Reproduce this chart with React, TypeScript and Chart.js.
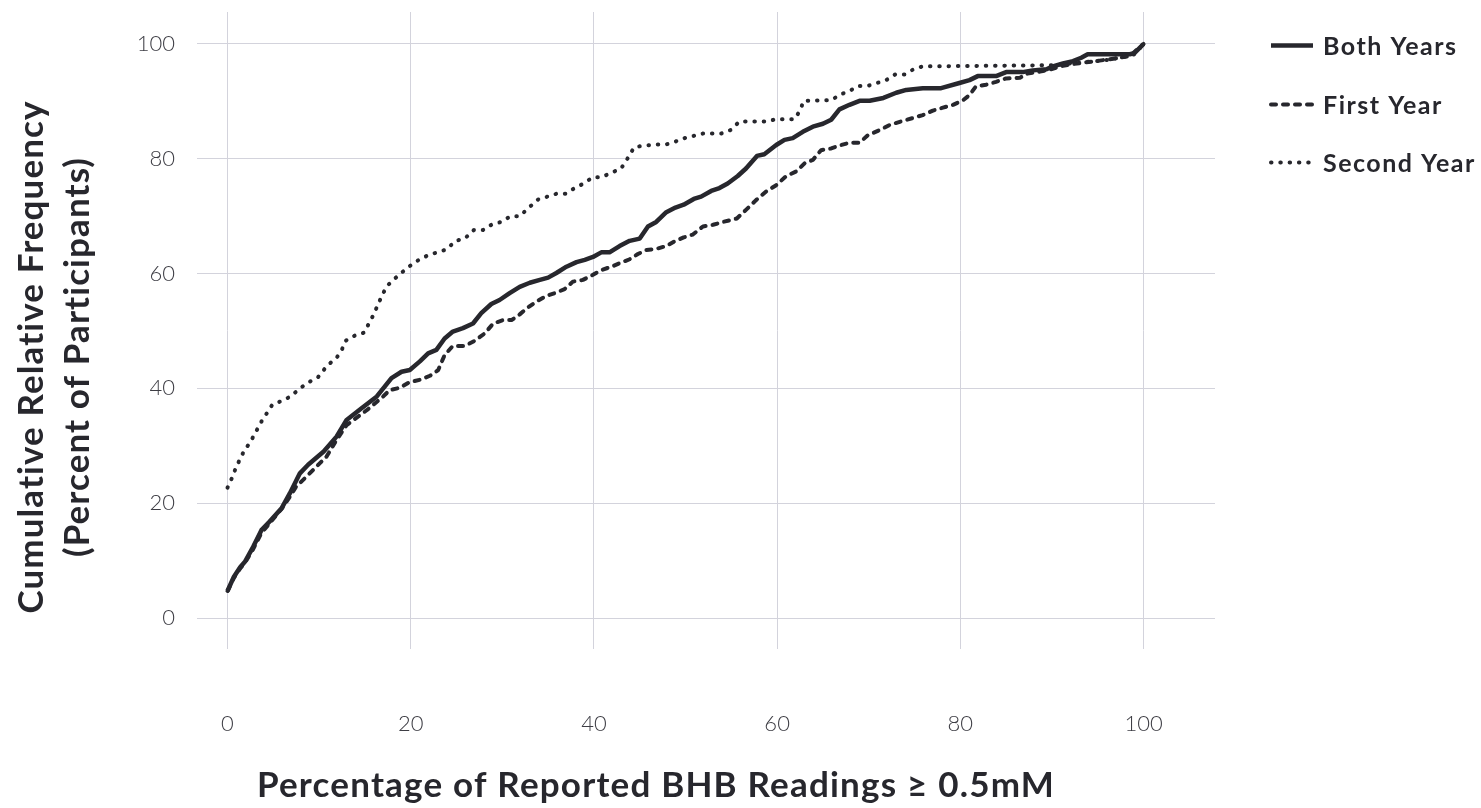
import React, { useEffect, useRef } from "react";
import { Chart, registerables } from "chart.js";

Chart.register(...registerables);

// Axis ticks
const xTickValues = [0, 20, 40, 60, 80, 100];
const yTickValues = [0, 20, 40, 60, 80, 100];

// Legend / series labels
const seriesLabels = ["Both Years", "First Year", "Second Year"];

// Both Years: percentage of readings >= 0.5mM vs cumulative percent of participants
const bothYearsX = [
  0, 0.7, 1.4, 1.9, 2.8, 3.7, 4.6, 5.9, 6.8, 7.9, 8.8, 10.5, 11.9, 13.0, 14.6, 16.3,
  17.9, 19.0, 19.9, 21.0, 21.9, 22.8, 23.7, 24.6, 25.7, 26.8, 27.7, 28.8, 29.7, 30.8,
  31.9, 33.0, 34.1, 35.0, 35.9, 37.0, 38.1, 39.0, 39.9, 40.8, 41.7, 42.8, 43.9, 45.0,
  45.9, 46.8, 47.9, 48.9, 49.8, 50.9, 51.7, 52.8, 53.7, 54.6, 55.7, 56.6, 57.8, 58.6,
  59.9, 60.8, 61.7, 62.8, 63.9, 65.0, 65.9, 66.8, 67.9, 69.0, 70.1, 71.6, 73.0, 74.1,
  75.9, 77.9, 79.9, 81.0, 81.9, 83.9, 85.0, 86.8, 87.9, 89.4, 90.1, 91.2, 92.3, 93.2,
  93.9, 98.5, 99.0, 100,
];
const bothYearsY = [
  4.7, 7.2, 8.9, 9.8, 12.4, 15.3, 16.8, 19.1, 21.7, 25.2, 26.7, 29.0, 31.6, 34.5, 36.5, 38.6,
  41.8, 42.9, 43.2, 44.7, 46.1, 46.7, 48.7, 49.9, 50.5, 51.3, 53.1, 54.7, 55.4, 56.6,
  57.7, 58.4, 58.9, 59.3, 60.1, 61.2, 62.0, 62.4, 62.9, 63.7, 63.7, 64.8, 65.7, 66.1,
  68.2, 69.0, 70.7, 71.5, 72.0, 73.0, 73.4, 74.4, 74.9, 75.7, 77.0, 78.3, 80.5, 80.8,
  82.4, 83.3, 83.6, 84.7, 85.6, 86.1, 86.8, 88.6, 89.4, 90.1, 90.1, 90.6, 91.5, 92.0,
  92.3, 92.3, 93.2, 93.7, 94.4, 94.4, 95.1, 95.1, 95.4, 95.6, 96.1, 96.6, 97.0, 97.6,
  98.2, 98.2, 98.4, 100,
];

// First Year
const firstYearX = [
  0, 0.7, 1.4, 1.9, 2.8, 3.7, 4.6, 5.9, 6.8, 7.5, 8.6, 10.8, 11.9, 13.0, 15.2, 17.0,
  17.7, 18.8, 19.9, 21.0, 22.1, 23.0, 23.7, 24.6, 25.9, 27.0, 28.1, 29.0, 30.1, 31.0,
  31.9, 32.8, 33.7, 34.8, 35.9, 36.8, 37.7, 38.8, 39.9, 40.8, 41.9, 42.8, 43.9, 44.8,
  45.7, 46.8, 47.9, 48.8, 49.8, 50.8, 51.9, 53.0, 54.1, 55.6, 56.6, 57.7, 58.8, 59.9,
  61.0, 62.1, 63.0, 63.9, 64.8, 65.9, 67.0, 67.9, 69.0, 69.9, 71.2, 72.3, 73.5, 74.8,
  75.9, 77.0, 78.1, 79.2, 80.3, 81.0, 81.7, 82.8, 83.9, 85.0, 86.5, 87.2, 88.7, 89.7,
  91.2, 92.3, 93.7, 95.2, 97.0, 98.5, 100,
];
const firstYearY = [
  4.7, 7.0, 8.7, 9.6, 12.0, 14.8, 16.5, 19.0, 21.1, 22.9, 24.6, 28.1, 31.0, 33.6, 36.2, 38.6,
  39.7, 40.1, 41.1, 41.5, 42.2, 43.2, 45.8, 47.4, 47.4, 48.3, 49.6, 51.3, 51.9, 51.9,
  52.9, 54.1, 55.1, 56.1, 56.7, 57.3, 58.6, 58.9, 59.8, 60.6, 61.2, 61.8, 62.5, 63.4,
  64.1, 64.3, 64.8, 65.6, 66.3, 66.8, 68.2, 68.5, 69.0, 69.6, 71.1, 72.8, 74.3, 75.4,
  77.0, 77.8, 79.2, 79.8, 81.5, 81.8, 82.4, 82.8, 82.8, 84.1, 85.0, 85.9, 86.5, 87.1,
  87.6, 88.4, 88.9, 89.4, 90.2, 91.1, 92.6, 92.9, 93.4, 94.0, 94.1, 94.8, 95.2, 95.5,
  96.2, 96.5, 96.8, 97.1, 97.5, 97.9, 100,
];

// Second Year
const secondYearX = [
  0, 0.46, 0.9, 1.4, 1.9, 2.5, 2.9, 3.4, 3.9, 4.4, 4.9, 5.9, 6.9, 7.9, 8.9, 9.9,
  10.9, 11.9, 12.5, 12.9, 13.9, 14.9, 15.4, 15.9, 16.4, 16.9, 17.4, 17.9, 18.8, 19.9,
  20.9, 21.9, 22.9, 23.9, 24.9, 25.9, 26.9, 27.9, 28.9, 29.9, 30.9, 31.9, 32.9, 33.9,
  34.9, 35.9, 36.9, 37.9, 38.9, 39.9, 40.9, 41.9, 42.9, 43.4, 43.9, 44.4, 45.1, 46.9,
  47.9, 48.9, 49.9, 50.9, 51.9, 53.9, 54.9, 55.9, 58.9, 59.9, 61.9, 62.5, 62.9, 65.9,
  66.9, 67.9, 68.9, 69.9, 70.9, 71.9, 72.9, 73.9, 74.9, 75.9, 90.0, 92.0, 94.0, 96.0,
  98.0, 99.0, 100,
];
const secondYearY = [
  22.7, 24.3, 26.1, 27.8, 29.4, 30.6, 31.9, 33.3, 34.8, 35.9, 37.2, 37.8, 38.6, 40.0, 41.1, 42.0,
  44.0, 45.3, 46.8, 48.3, 49.2, 49.7, 51.2, 52.7, 54.5, 56.3, 57.8, 58.6, 59.9, 61.3,
  62.4, 63.2, 63.7, 64.2, 65.7, 66.1, 67.6, 67.6, 68.6, 69.0, 70.0, 70.0, 71.5, 72.9,
  73.4, 73.9, 73.9, 74.9, 75.7, 76.8, 76.8, 77.6, 78.2, 79.3, 80.7, 82.0, 82.2, 82.5,
  82.5, 83.0, 83.6, 84.0, 84.4, 84.4, 85.0, 86.5, 86.5, 86.9, 86.9, 88.4, 90.1, 90.2,
  91.2, 91.8, 92.7, 92.7, 93.2, 93.7, 94.7, 94.7, 95.6, 96.1, 96.3, 96.6, 96.9, 97.2,
  97.8, 98.2, 100,
];

const INK = "#27272d";
const GRID = "#d3d3dc";
const TICK_INK = "#3d3d44";
const FONT = "Lato, 'DejaVu Sans', sans-serif";

const SOLID: number[] = [];
const DASHED = [5, 7];
const DOTTED = [0.5, 8.8];

const toPoints = (xs: number[], ys: number[]) => xs.map((x, i) => ({ x, y: ys[i] }));

// Draws axis titles and the line-style legend on top of the chart.
const decorations = {
  id: "decorations",
  afterDraw(chart: any) {
    const ctx = chart.ctx as any;
    ctx.save();
    ctx.fillStyle = INK;
    ctx.textAlign = "center";
    ctx.textBaseline = "alphabetic";
    ctx.font = `bold 35px ${FONT}`;
    ctx.letterSpacing = "1.2px";
    ctx.fillText("Percentage of Reported BHB Readings \u2265 0.5mM", 656, 797);

    ctx.letterSpacing = "1.1px";
    ctx.save();
    ctx.translate(43, 357);
    ctx.rotate(-Math.PI / 2);
    ctx.fillText("Cumulative Relative Frequency", 0, 0);
    ctx.restore();
    ctx.save();
    ctx.translate(89, 357);
    ctx.rotate(-Math.PI / 2);
    ctx.fillText("(Percent of Participants)", 0, 0);
    ctx.restore();

    const dashes = [SOLID, DASHED, DOTTED];
    const widths = [4.5, 4, 4];
    const baselines = [55, 114, 172];
    ctx.textAlign = "left";
    ctx.font = `bold 25px ${FONT}`;
    ctx.letterSpacing = "1.5px";
    seriesLabels.forEach((label, i) => {
      const yLine = baselines[i] - 9.5;
      ctx.beginPath();
      ctx.setLineDash(dashes[i]);
      ctx.lineCap = i === 0 ? "butt" : "round";
      ctx.lineWidth = widths[i];
      ctx.strokeStyle = INK;
      ctx.moveTo(1271, yLine);
      ctx.lineTo(1313, yLine);
      ctx.stroke();
      ctx.setLineDash([]);
      ctx.fillText(label, 1323, baselines[i]);
    });
    ctx.restore();
  },
};

export default function App() {
  const canvasRef = useRef<HTMLCanvasElement | null>(null);

  useEffect(() => {
    const canvas = canvasRef.current;
    if (!canvas) return;

    const lineStyle = (dash: number[], width: number) => ({
      borderColor: INK,
      backgroundColor: INK,
      borderWidth: width,
      borderDash: dash,
      borderCapStyle: dash.length ? "round" : "butt",
      borderJoinStyle: "round",
      pointRadius: 0,
      pointHoverRadius: 0,
      tension: 0,
      fill: false,
    });

    const chart = new Chart(canvas, {
      type: "line",
      data: {
        datasets: [
          { label: seriesLabels[2], data: toPoints(secondYearX, secondYearY), ...lineStyle(DOTTED, 4) },
          { label: seriesLabels[1], data: toPoints(firstYearX, firstYearY), ...lineStyle(DASHED, 4) },
          { label: seriesLabels[0], data: toPoints(bothYearsX, bothYearsY), ...lineStyle(SOLID, 4.5) },
        ] as any,
      },
      options: {
        animation: false,
        responsive: false,
        devicePixelRatio: 1,
        layout: { padding: { top: 12, right: 266, left: 0, bottom: 0 } },
        plugins: {
          legend: { display: false },
          tooltip: { enabled: false },
        },
        scales: {
          x: {
            type: "linear",
            min: -3.33,
            max: 107.8,
            afterBuildTicks: (scale: any) => {
              scale.ticks = xTickValues.map((v) => ({ value: v }));
            },
            afterFit: (scale: any) => {
              scale.height = 159;
              scale.paddingLeft = 0;
              scale.paddingRight = 0;
            },
            grid: { color: GRID, lineWidth: 1, drawTicks: false },
            border: { display: false },
            ticks: {
              padding: 62,
              color: TICK_INK,
              font: { family: FONT, size: 22, weight: "300" },
              maxRotation: 0,
            },
          },
          y: {
            type: "linear",
            min: -5.4,
            max: 105.57,
            afterBuildTicks: (scale: any) => {
              scale.ticks = yTickValues.map((v) => ({ value: v }));
            },
            afterFit: (scale: any) => {
              scale.width = 197;
              scale.paddingTop = 0;
              scale.paddingBottom = 0;
            },
            grid: { color: GRID, lineWidth: 1, drawTicks: false },
            border: { display: false },
            ticks: {
              padding: 22,
              color: TICK_INK,
              font: { family: FONT, size: 22, weight: "300" },
            },
          },
        },
      } as any,
      plugins: [decorations],
    });

    return () => chart.destroy();
  }, []);

  return (
    <div style={{ position: "absolute", left: 0, top: 0, width: 1481, height: 808, background: "#ffffff" }}>
      <canvas ref={canvasRef} width={1481} height={808} style={{ width: 1481, height: 808, display: "block" }} />
    </div>
  );
}
